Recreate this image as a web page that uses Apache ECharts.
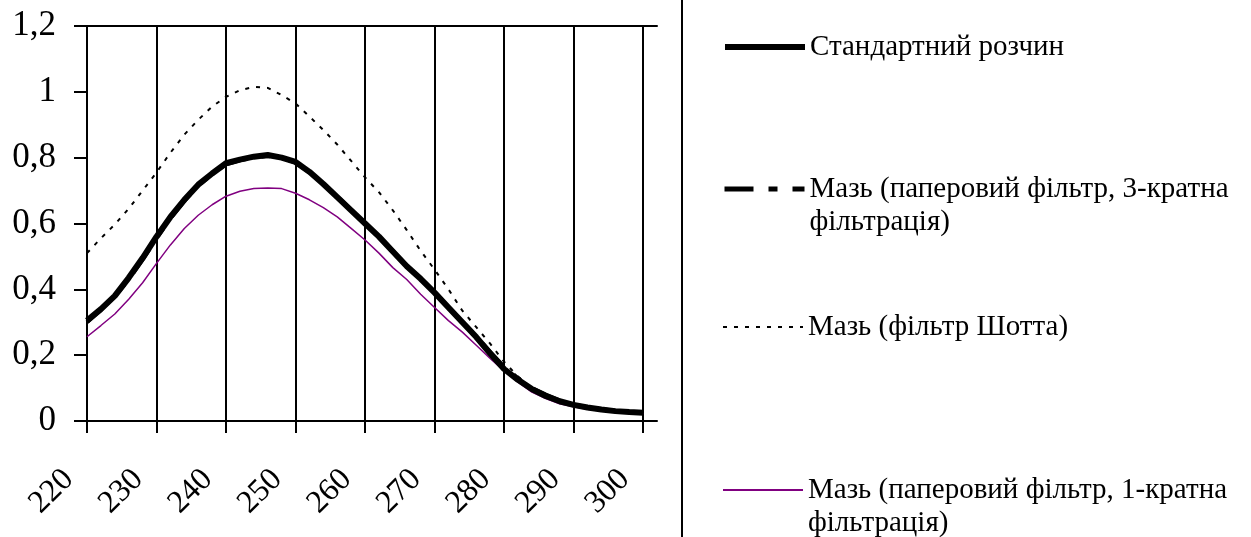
<!DOCTYPE html>
<html>
<head>
<meta charset="utf-8">
<script src="https://cdn.jsdelivr.net/npm/echarts@6/dist/echarts.min.js"></script>
<style>
    html, body { margin: 0; padding: 0; background: #fff; }
    #chart { width: 1251px; height: 537px; }
</style>
</head>
<body>
<div id="chart"></div>
<script>
// довжина хвилі, нм (крок 2 нм, 302 - лише для краю осі)
var wavelengths = [220, 222, 224, 226, 228, 230, 232, 234, 236, 238,
                   240, 242, 244, 246, 248, 250, 252, 254, 256, 258,
                   260, 262, 264, 266, 268, 270, 272, 274, 276, 278,
                   280, 282, 284, 286, 288, 290, 292, 294, 296, 298,
                   300, 302];

var standard = [0.305, 0.34, 0.38, 0.435, 0.495, 0.56, 0.62, 0.672, 0.718, 0.752,
                0.783, 0.794, 0.803, 0.808, 0.800, 0.787, 0.757, 0.72, 0.68, 0.64,
                0.60, 0.56, 0.515, 0.47, 0.432, 0.39, 0.345, 0.30, 0.255, 0.205,
                0.158, 0.125, 0.097, 0.076, 0.06, 0.049, 0.041, 0.035, 0.03, 0.027,
                0.025];

var paper3 = [0.30, 0.338, 0.378, 0.43, 0.49, 0.555, 0.615, 0.668, 0.715, 0.75,
              0.78, 0.792, 0.80, 0.805, 0.80, 0.785, 0.755, 0.72, 0.682, 0.642,
              0.60, 0.56, 0.517, 0.472, 0.432, 0.39, 0.346, 0.302, 0.258, 0.21,
              0.165, 0.13, 0.10, 0.08, 0.063, 0.05, 0.042, 0.036, 0.031, 0.028,
              0.026];

var schott = [0.51, 0.555, 0.597, 0.645, 0.70, 0.755, 0.815, 0.87, 0.915, 0.955,
              0.985, 1.005, 1.015, 1.012, 0.99, 0.965, 0.925, 0.884, 0.84, 0.79,
              0.74, 0.695, 0.64, 0.58, 0.517, 0.46, 0.40, 0.335, 0.285, 0.235,
              0.18, 0.135, 0.10, 0.078, 0.062, 0.05, 0.042, 0.035, 0.03, 0.027,
              0.025];

var paper1 = [0.256, 0.29, 0.325, 0.37, 0.42, 0.479, 0.535, 0.585, 0.625, 0.657,
              0.683, 0.698, 0.706, 0.708, 0.706, 0.692, 0.672, 0.648, 0.62, 0.585,
              0.55, 0.51, 0.466, 0.43, 0.385, 0.345, 0.305, 0.27, 0.23, 0.19,
              0.152, 0.118, 0.088, 0.068, 0.052, 0.043, 0.036, 0.031, 0.027, 0.024,
              0.022];

var names = ['Стандартний розчин',
             'Мазь (паперовий фільтр, 3-кратна\nфільтрація)',
             'Мазь (фільтр Шотта)',
             'Мазь (паперовий фільтр, 1-кратна\nфільтрація)'];

var FONT = 'Liberation Serif, Times New Roman, serif';
var LH = 33;

var styles = [
    { color: '#000', width: 6, type: 'solid' },
    { color: '#000', width: 5, type: [29, 15, 9, 15] },
    { color: '#000', width: 2, type: [4, 7] },
    { color: '#800080', width: 2, type: 'solid' }
];

//мітки через кожні 10 нм
function every10(index) {
    return index % 5 === 0 && index <= 40;
}

//окрема легенда для кожної лінії, значок - на рівні першого рядка
function legendItem(i, top) {
    return {
        data: [names[i]],
        left: 722,
        top: top,
        padding: 0,
        itemWidth: 80,
        itemHeight: 14,
        selectedMode: false,
        itemStyle: { opacity: 0 },
        lineStyle: styles[i],
        formatter: function(name) {
            return name.indexOf('\n') >= 0 ? ' \n' + name : name;
        },
        textStyle: {
            fontFamily: FONT,
            fontSize: 29,
            color: '#000',
            lineHeight: LH
        }
    };
}

var option = {
    animation: false,
    backgroundColor: '#fff',
    grid: { left: 87, right: 594, top: 26, bottom: 116 },
    xAxis: [{
        type: 'category',
        data: wavelengths,
        boundaryGap: false,
        axisLine: { lineStyle: { color: '#000', width: 2 } },
        axisTick: { interval: every10, length: 12, lineStyle: { color: '#000', width: 2 } },
        splitLine: { show: true, interval: every10, lineStyle: { color: '#000', width: 2 } },
        axisLabel: {
            interval: every10,
            rotate: 45,
            margin: 35,
            padding: [0, 26, 0, 0],
            fontFamily: FONT,
            fontSize: 32,
            color: '#000'
        }
    }, {
        type: 'category',
        data: wavelengths,
        boundaryGap: false,
        position: 'top',
        axisLine: { lineStyle: { color: '#000', width: 2 } },
        axisTick: { show: false },
        axisLabel: { show: false },
        splitLine: { show: false }
    }],
    yAxis: {
        type: 'value',
        min: 0,
        max: 1.2,
        interval: 0.2,
        axisLine: { show: true, lineStyle: { color: '#000', width: 2 } },
        axisTick: { show: true, length: 13, lineStyle: { color: '#000', width: 2 } },
        splitLine: { show: false },
        axisLabel: {
            margin: 31,
            fontFamily: FONT,
            fontSize: 35,
            color: '#000',
            formatter: function(v) {
                return String(v).replace('.', ',');
            }
        }
    },
    legend: [
        legendItem(0, 47 - LH / 2),
        legendItem(1, 189 - LH * 1.5),
        legendItem(2, 327 - LH / 2),
        legendItem(3, 490 - LH * 1.5)
    ],
    graphic: [{
        type: 'line',
        shape: { x1: 682, y1: 0, x2: 682, y2: 537 },
        style: { stroke: '#000', lineWidth: 2 }
    }],
    series: [{
        name: names[1],
        type: 'line',
        data: paper3,
        symbol: 'none',
        z: 2,
        itemStyle: { color: '#000' },
        lineStyle: { color: '#000', width: 4, type: [29, 15, 9, 15] }
    }, {
        name: names[0],
        type: 'line',
        data: standard,
        symbol: 'none',
        z: 3,
        itemStyle: { color: '#000' },
        lineStyle: styles[0]
    }, {
        name: names[2],
        type: 'line',
        data: schott,
        symbol: 'none',
        z: 2,
        itemStyle: { color: '#000' },
        lineStyle: styles[2]
    }, {
        name: names[3],
        type: 'line',
        data: paper1,
        symbol: 'none',
        z: 2,
        itemStyle: { color: '#800080' },
        lineStyle: { color: '#800080', width: 1.5 }
    }]
};

echarts.init(document.getElementById('chart')).setOption(option);
</script>
</body>
</html>
